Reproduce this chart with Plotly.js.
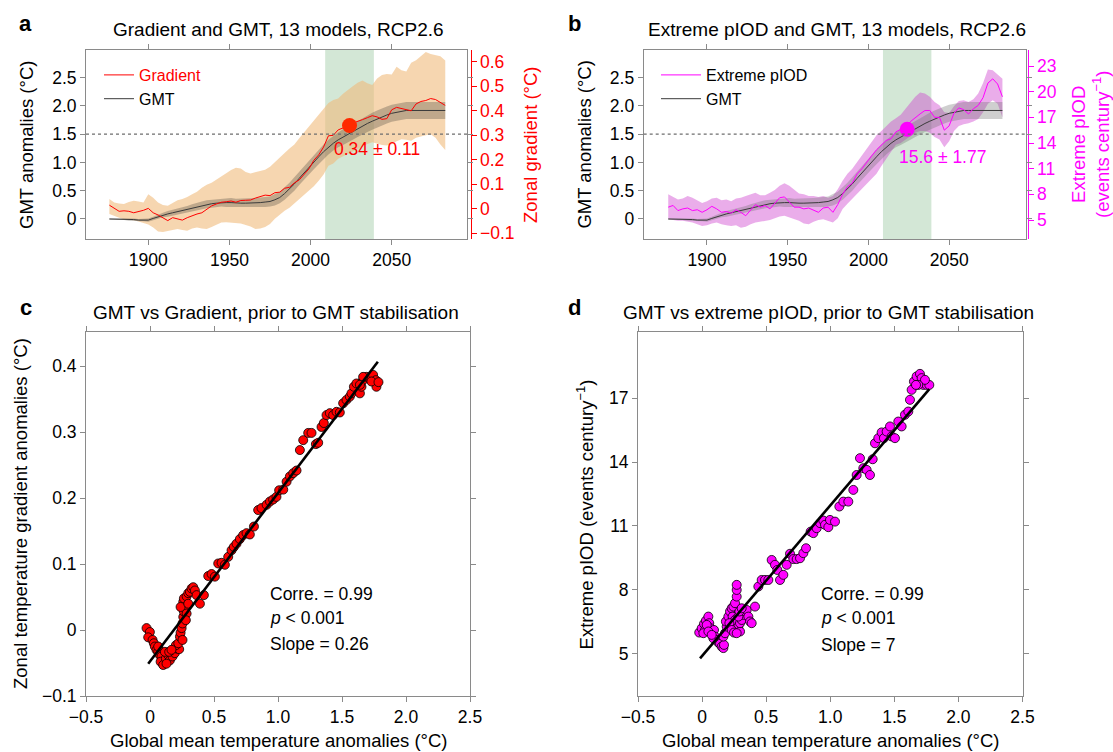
<!DOCTYPE html>
<html><head><meta charset="utf-8">
<script src="https://cdn.plot.ly/plotly-3.0.1.min.js"></script>
<style>html,body{margin:0;padding:0;background:#fff}#chart{width:1113px;height:752px}</style>
</head><body><div id="chart"></div>
<script>
// ---------------- data ----------------
const years = [1876,1879,1882,1885,1888,1891,1894,1897,1900,
  1903,1906,1909,1912,1915,1918,1921,1924,1927,1930,
  1933,1936,1939,1942,1945,1948,1951,1954,1957,1960,
  1963,1966,1969,1972,1975,1978,1981,1984,1987,1990,
  1993,1996,1999,2002,2005,2008,2011,2014,2017,2020,
  2023,2026,2029,2032,2035,2038,2041,2044,2047,2050,
  2053,2056,2059,2062,2065,2068,2071,2074,2077,2080,
  2083];

const gmt = [0.00,0.00,0.00,0.00,-0.01,-0.01,-0.02,-0.02,-0.02,
  0.01,0.04,0.07,0.09,0.11,0.13,0.15,0.17,0.20,0.22,
  0.24,0.26,0.27,0.28,0.29,0.29,0.29,0.28,0.28,0.28,
  0.28,0.29,0.29,0.30,0.31,0.34,0.38,0.45,0.53,0.62,
  0.72,0.82,0.92,1.01,1.10,1.19,1.27,1.34,1.40,1.45,
  1.49,1.54,1.59,1.64,1.69,1.73,1.77,1.81,1.84,1.87,
  1.89,1.91,1.92,1.92,1.92,1.92,1.92,1.92,1.92,1.92,
  1.92];
const gmtLo = [-0.01,-0.01,-0.01,-0.02,-0.03,-0.03,-0.04,-0.04,-0.05,
  -0.02,0.00,0.03,0.04,0.06,0.08,0.09,0.11,0.14,0.15,
  0.17,0.19,0.20,0.21,0.22,0.21,0.21,0.20,0.20,0.20,
  0.20,0.21,0.20,0.21,0.22,0.24,0.28,0.34,0.42,0.50,
  0.60,0.70,0.80,0.88,0.97,1.06,1.14,1.21,1.27,1.31,
  1.35,1.40,1.45,1.50,1.54,1.58,1.62,1.66,1.69,1.72,
  1.74,1.76,1.77,1.77,1.77,1.77,1.77,1.77,1.77,1.77,
  1.77];
const gmtHi = [0.01,0.01,0.01,0.02,0.01,0.01,0.00,0.00,0.01,
  0.04,0.08,0.11,0.14,0.16,0.18,0.21,0.23,0.26,0.29,
  0.31,0.33,0.34,0.35,0.36,0.37,0.37,0.36,0.36,0.36,
  0.36,0.37,0.38,0.39,0.40,0.44,0.48,0.56,0.64,0.74,
  0.84,0.94,1.04,1.14,1.23,1.32,1.40,1.47,1.53,1.59,
  1.63,1.68,1.73,1.78,1.84,1.88,1.92,1.96,1.99,2.02,
  2.04,2.06,2.07,2.07,2.07,2.07,2.07,2.07,2.07,2.07,
  2.07];

const gradient = [0.015,0.004,-0.010,-0.008,-0.010,-0.016,-0.012,-0.006,0.002,
  -0.016,-0.025,-0.035,-0.048,-0.036,-0.040,-0.046,-0.036,-0.028,-0.021,
  -0.016,-0.002,0.012,0.020,0.027,0.029,0.032,0.027,0.034,0.035,
  0.036,0.044,0.050,0.056,0.054,0.066,0.068,0.084,0.088,0.106,
  0.118,0.142,0.163,0.198,0.220,0.252,0.298,0.300,0.322,0.330,
  0.342,0.350,0.356,0.364,0.372,0.380,0.375,0.365,0.368,0.404,
  0.414,0.410,0.404,0.400,0.428,0.438,0.442,0.450,0.446,0.434,
  0.422];
const gradientHi = [0.040,0.026,0.022,0.020,0.028,0.033,0.030,0.026,0.060,
  0.045,0.026,0.016,0.013,0.025,0.035,0.040,0.048,0.060,0.070,
  0.086,0.098,0.106,0.118,0.132,0.145,0.158,0.168,0.165,0.150,
  0.144,0.150,0.156,0.160,0.172,0.192,0.208,0.228,0.246,0.262,
  0.288,0.312,0.338,0.362,0.388,0.410,0.432,0.444,0.450,0.470,
  0.486,0.500,0.514,0.524,0.512,0.505,0.532,0.546,0.550,0.548,
  0.580,0.565,0.560,0.596,0.606,0.622,0.640,0.632,0.628,0.622,
  0.605];
const gradientLo = [-0.021,-0.030,-0.036,-0.042,-0.044,-0.047,-0.052,-0.058,-0.064,
  -0.076,-0.092,-0.094,-0.090,-0.086,-0.082,-0.086,-0.089,-0.080,-0.076,
  -0.080,-0.082,-0.074,-0.064,-0.056,-0.055,-0.056,-0.056,-0.060,-0.066,
  -0.072,-0.082,-0.080,-0.074,-0.062,-0.040,-0.022,-0.008,0.004,0.022,
  0.040,0.055,0.072,0.092,0.115,0.140,0.176,0.185,0.204,0.215,
  0.225,0.234,0.244,0.255,0.265,0.272,0.265,0.260,0.258,0.264,
  0.276,0.284,0.282,0.278,0.290,0.296,0.300,0.304,0.290,0.262,
  0.240];

const piod = [6.5,6.7,6.1,6.3,6.4,6.1,6.2,5.9,6.2,
  6.6,6.3,5.9,6.0,5.8,6.2,5.9,5.5,6.2,6.8,
  6.5,6.7,6.3,6.9,7.6,7.7,7.1,6.5,6.5,6.3,
  6.4,6.1,5.9,6.4,6.5,5.9,6.8,8.0,8.9,9.3,
  10.4,11.0,11.8,12.5,13.2,13.8,14.3,14.5,15.3,15.6,
  15.8,16.5,17.0,17.4,17.8,17.8,17.0,17.0,15.5,16.0,
  17.5,18.1,17.9,17.4,18.0,18.4,19.3,21.0,21.5,20.9,
  19.4];
const piodHi = [8.0,7.7,7.4,7.5,7.8,7.6,7.3,7.0,7.2,
  7.5,7.6,7.3,7.4,7.2,7.5,7.6,7.8,8.0,8.2,
  7.9,7.9,8.2,8.5,9.0,9.3,9.0,8.5,8.1,8.0,
  7.8,7.8,7.7,7.8,7.6,7.8,8.6,9.6,10.4,11.0,
  11.8,12.6,13.4,14.2,14.9,15.4,16.0,16.5,16.9,17.3,
  18.0,18.7,19.4,19.9,19.8,19.4,18.8,18.4,17.6,17.5,
  18.3,18.9,19.0,18.8,19.1,19.8,21.0,22.6,22.5,22.0,
  21.5];
const piodLo = [5.1,5.0,4.9,4.9,4.8,4.7,4.5,4.3,4.4,
  4.6,4.7,4.5,4.4,4.3,4.4,4.1,4.2,4.5,4.7,
  4.8,4.9,5.0,5.2,5.4,5.5,5.3,5.1,4.9,4.6,
  4.5,4.8,5.0,5.1,4.9,4.7,5.2,6.3,6.9,7.5,
  8.1,8.6,9.2,9.8,10.4,11.3,12.1,13.0,13.8,14.0,
  14.4,14.9,15.2,15.4,15.4,15.2,14.7,14.4,13.5,14.2,
  15.4,16.0,16.2,16.3,16.5,16.8,17.6,18.6,19.0,18.6,
  17.0];

const stabWindow = [2009, 2039];      // shaded years
const gmtThreshold = 1.5;             // dotted line
const crossYear = 2024;               // year GMT reaches 1.5
const gradAtThreshold = 0.34, gradSpread = 0.11;
const piodAtThreshold = 15.6, piodSpread = 1.77;

// panel c: GMT vs gradient
const cGMT = [-0.027,-0.001,-0.014,0.020,0.030,0.038,0.051,0.064,0.077,0.090,0.083,0.103,0.124,0.142,0.155,0.176,0.194,0.208,0.228,0.202,0.221,0.234,0.239,0.247,0.254,0.260,0.265,0.273,0.260,0.265,0.286,0.299,0.312,0.325,0.338,0.351,0.364,0.390,0.421,0.116,0.064,0.129,0.150,0.168,0.286,0.280,0.254,0.239,0.299,
  0.455,0.481,0.507,0.533,0.559,0.585,0.611,0.637,0.655,0.676,0.702,0.728,0.754,0.780,0.812,0.845,0.871,0.911,0.937,0.962,0.988,1.009,1.041,1.067,1.093,1.119,1.145,1.171,1.197,1.236,1.262,1.296,1.314,1.340,1.358,1.379,1.405,1.431,1.457,1.483,1.509,1.535,1.561,1.574,1.593,1.613,1.640,1.652,1.665,1.692,1.717,1.743,1.764,1.769,1.730,1.665,1.640,1.785];
const cGrad = [0.003,-0.003,-0.011,-0.015,-0.020,-0.025,-0.030,-0.033,-0.038,-0.040,-0.048,-0.053,-0.043,-0.038,-0.046,-0.040,-0.035,-0.028,-0.029,-0.023,-0.020,-0.010,-0.004,0.003,0.010,0.020,0.028,0.035,0.043,0.048,0.051,0.056,0.058,0.063,0.065,0.060,0.053,0.040,0.053,-0.033,-0.025,-0.051,-0.033,-0.030,0.025,0.015,-0.015,0.035,0.040,
  0.082,0.085,0.081,0.101,0.102,0.099,0.111,0.121,0.126,0.131,0.138,0.144,0.147,0.145,0.157,0.182,0.185,0.190,0.195,0.198,0.202,0.212,0.213,0.225,0.233,0.238,0.242,0.273,0.288,0.299,0.299,0.282,0.284,0.308,0.314,0.326,0.329,0.326,0.331,0.330,0.344,0.349,0.354,0.359,0.369,0.374,0.359,0.369,0.379,0.384,0.382,0.387,0.379,0.369,0.377,0.384,0.372,0.376];
const cFitX = [-0.014, 1.78], cFitY = [-0.051, 0.407];

// panel d: GMT vs extreme pIOD
const dGMT = [-0.022,-0.003,0.015,0.030,0.049,0.056,0.067,0.082,0.093,0.023,0.010,0.036,0.049,0.101,0.114,0.127,0.140,0.153,0.166,0.171,0.088,0.075,0.166,0.179,0.192,0.186,0.205,0.218,0.231,0.244,0.257,0.270,0.270,0.270,0.238,0.257,0.270,0.283,0.296,0.296,0.309,0.322,0.335,0.348,0.361,0.374,0.387,0.413,0.213,0.231,0.249,0.270,0.283,0.291,0.309,
  0.439,0.465,0.491,0.517,0.543,0.569,0.587,0.608,0.634,0.660,0.686,0.712,0.738,0.764,0.790,0.811,0.847,0.868,0.894,0.920,0.946,0.959,0.985,0.998,1.037,1.071,1.102,1.141,1.180,1.206,1.232,1.258,1.284,1.310,1.331,1.349,1.375,1.401,1.419,1.440,1.466,1.479,1.505,1.531,1.557,1.583,1.609,1.622,1.635,1.653,1.674,1.700,1.713,1.726,1.752,1.773,1.739,1.687,1.669];
const dPiod = [5.99,6.19,6.40,6.55,6.74,6.43,6.19,5.96,6.11,6.11,5.96,6.35,6.04,5.80,5.64,5.52,5.46,5.33,5.26,5.41,5.72,5.88,5.80,5.96,6.27,6.51,6.74,6.98,7.13,7.21,7.37,7.68,7.99,8.23,6.74,6.58,6.43,6.27,6.04,6.43,6.58,6.82,6.98,7.05,6.74,6.51,6.43,7.21,6.43,6.11,5.99,5.96,6.74,6.98,7.13,
  8.15,8.46,8.46,8.46,9.40,9.17,8.93,8.46,8.70,9.17,9.69,9.44,9.44,9.48,9.72,9.95,10.73,10.66,10.89,11.13,11.25,11.05,10.94,11.28,11.20,11.91,12.14,12.14,12.69,13.39,14.18,13.71,13.63,13.39,14.13,14.88,15.12,15.39,15.12,15.43,15.67,15.20,15.12,15.90,15.67,16.22,16.37,16.92,17.39,17.78,18.02,18.14,17.94,17.62,17.62,17.62,17.86,17.62,17.62];
const dFitX = [-0.016, 1.773], dFitY = [4.78, 17.42];

const gmtTickVals = [0,0.5,1,1.5,2,2.5], gmtTickText = ['0','0.5','1.0','1.5','2.0','2.5'];
const gradTickVals = [-0.1,0,0.1,0.2,0.3,0.4,0.5,0.6], gradTickText = ['\u22120.1','0','0.1','0.2','0.3','0.4','0.5','0.6'];
const piodTickVals = [5,8,11,14,17,20,23];
const yearTicks = [1900,1950,2000,2050];
const scatX = [-0.5,0,0.5,1,1.5,2,2.5], scatXText = ['\u22120.5','0','0.5','1.0','1.5','2.0','2.5'];
const cYVals = [-0.1,0,0.1,0.2,0.3,0.4], cYText = ['\u22120.1','0','0.1','0.2','0.3','0.4'];
const dYVals = [5,8,11,14,17];

// ---------------- layout helpers ----------------
const W = 1113, H = 752;
const FONT = '"Liberation Sans", Arial, Helvetica, sans-serif';
const FRAME = '#8a8a8a';
const RED = '#ff0000', MAG = '#ff00ff';
const PX = x => x / W, PY = y => 1 - y / H;
const topDom = [PY(239), PY(50)], botDom = [PY(696), PY(331.7)];

function ax(o) {
  return Object.assign({showline:true, linecolor:FRAME, linewidth:1, mirror:'allticks',
    ticks:'outside', ticklen:5, tickwidth:1, tickcolor:FRAME, showgrid:false, zeroline:false,
    tickfont:{size:17.5, color:'#000'}, fixedrange:true, tickmode:'array'}, o);
}
function colAx(color, o) {
  return Object.assign({showline:true, linecolor:color, linewidth:1, mirror:false, ticks:'outside',
    ticklen:5, tickwidth:1, tickcolor:color, showgrid:false, zeroline:false,
    tickfont:{size:17.5, color:color}, fixedrange:true, tickmode:'array'}, o);
}

const bandLine = {width:0};
const traces = [
  // panel a
  {x:years, y:gradientLo, xaxis:'x', yaxis:'y', mode:'lines', line:bandLine, showlegend:false, hoverinfo:'skip'},
  {x:years, y:gradientHi, xaxis:'x', yaxis:'y', mode:'lines', line:bandLine, fill:'tonexty', fillcolor:'rgba(240,186,124,0.6)', showlegend:false, hoverinfo:'skip'},
  {x:years, y:gmtLo, xaxis:'x', yaxis:'y2', mode:'lines', line:bandLine, showlegend:false, hoverinfo:'skip'},
  {x:years, y:gmtHi, xaxis:'x', yaxis:'y2', mode:'lines', line:bandLine, fill:'tonexty', fillcolor:'rgba(95,85,75,0.36)', showlegend:false, hoverinfo:'skip'},
  {x:years, y:gradient, xaxis:'x', yaxis:'y3', mode:'lines', line:{color:RED, width:1}, name:'<span style="color:#ff0000">Gradient</span>', legend:'legend', legendrank:1},
  {x:years, y:gmt, xaxis:'x', yaxis:'y2', mode:'lines', line:{color:'#3a3a3a', width:1}, name:'GMT', legend:'legend', legendrank:2},
  {x:[crossYear], y:[gradAtThreshold], xaxis:'x', yaxis:'y3', mode:'markers', marker:{size:15, color:'#ff2a00'}, showlegend:false},
  // panel b
  {x:years, y:piodLo, xaxis:'x2', yaxis:'y4', mode:'lines', line:bandLine, showlegend:false, hoverinfo:'skip'},
  {x:years, y:piodHi, xaxis:'x2', yaxis:'y4', mode:'lines', line:bandLine, fill:'tonexty', fillcolor:'rgba(205,60,205,0.42)', showlegend:false, hoverinfo:'skip'},
  {x:years, y:gmtLo, xaxis:'x2', yaxis:'y5', mode:'lines', line:bandLine, showlegend:false, hoverinfo:'skip'},
  {x:years, y:gmtHi, xaxis:'x2', yaxis:'y5', mode:'lines', line:bandLine, fill:'tonexty', fillcolor:'rgba(110,110,110,0.33)', showlegend:false, hoverinfo:'skip'},
  {x:years, y:gmt, xaxis:'x2', yaxis:'y5', mode:'lines', line:{color:'#3a3a3a', width:1}, name:'GMT', legend:'legend2', legendrank:2},
  {x:years, y:piod, xaxis:'x2', yaxis:'y6', mode:'lines', line:{color:MAG, width:1}, name:'Extreme pIOD', legend:'legend2', legendrank:1},
  {x:[crossYear], y:[piodAtThreshold], xaxis:'x2', yaxis:'y6', mode:'markers', marker:{size:15, color:MAG}, showlegend:false},
  // panel c
  {x:cGMT, y:cGrad, xaxis:'x3', yaxis:'y7', mode:'markers', marker:{size:9, color:RED, line:{color:'#000', width:0.8}}, showlegend:false},
  {x:cFitX, y:cFitY, xaxis:'x3', yaxis:'y7', mode:'lines', line:{color:'#000', width:2.6}, showlegend:false},
  // panel d
  {x:dGMT, y:dPiod, xaxis:'x4', yaxis:'y8', mode:'markers', marker:{size:9, color:MAG, line:{color:'#000', width:0.8}}, showlegend:false},
  {x:dFitX, y:dFitY, xaxis:'x4', yaxis:'y8', mode:'lines', line:{color:'#000', width:2.6}, showlegend:false}
];

const gradRange = [-0.123, 0.648], gmtRange = [-0.354, 2.99], piodRange = [2.78, 24.87];

function ann(text, x, y, o) {
  return Object.assign({text:text, x:PX(x), y:PY(y), xref:'paper', yref:'paper', showarrow:false,
    xanchor:'center', yanchor:'middle', font:{size:19, color:'#000'}}, o);
}

const layout = {
  width:W, height:H, margin:{l:0, r:0, t:0, b:0},
  paper_bgcolor:'#fff', plot_bgcolor:'rgba(0,0,0,0)',
  font:{family:FONT, color:'#000'},
  showlegend:true,
  xaxis: ax({domain:[PX(86), PX(467)], range:[1861.6, 2096.4], anchor:'y', tickvals:yearTicks}),
  yaxis: colAx(RED, {domain:topDom, range:gradRange, side:'right', anchor:'free', position:PX(470.5), tickvals:gradTickVals, ticktext:gradTickText}),
  yaxis2: ax({overlaying:'y', side:'left', anchor:'x', range:gmtRange, tickvals:gmtTickVals, ticktext:gmtTickText}),
  yaxis3: {overlaying:'y', range:gradRange, visible:false, fixedrange:true},
  xaxis2: ax({domain:[PX(643.7), PX(1026)], range:[1860.8, 2097.6], anchor:'y4', tickvals:yearTicks}),
  yaxis4: colAx(MAG, {domain:topDom, range:piodRange, side:'right', anchor:'free', position:PX(1027.5), tickvals:piodTickVals}),
  yaxis5: ax({overlaying:'y4', side:'left', anchor:'x2', range:gmtRange, tickvals:gmtTickVals, ticktext:gmtTickText}),
  yaxis6: {overlaying:'y4', range:piodRange, visible:false, fixedrange:true},
  xaxis3: ax({domain:[PX(86), PX(470)], range:[-0.5, 2.5], anchor:'y7', tickvals:scatX, ticktext:scatXText}),
  yaxis7: ax({domain:botDom, range:[-0.1, 0.4525], anchor:'x3', tickvals:cYVals, ticktext:cYText}),
  xaxis4: ax({domain:[PX(638), PX(1022.5)], range:[-0.5, 2.5], anchor:'y8', tickvals:scatX, ticktext:scatXText}),
  yaxis8: ax({domain:botDom, range:[3.01, 20.12], anchor:'x4', tickvals:dYVals}),
  legend: {x:PX(99), y:PY(58), xanchor:'left', yanchor:'top', bgcolor:'rgba(0,0,0,0)', font:{size:16, color:'#000'}, itemwidth:30, tracegroupgap:0, traceorder:'normal'},
  legend2: {x:PX(656), y:PY(58), xanchor:'left', yanchor:'top', bgcolor:'rgba(0,0,0,0)', font:{size:16, color:'#000'}, itemwidth:40, tracegroupgap:0, traceorder:'normal'},
  shapes: [
    {type:'rect', xref:'x', yref:'y domain', x0:stabWindow[0], x1:stabWindow[1], y0:0, y1:1, fillcolor:'#d3e7d6', line:{width:0}, layer:'below'},
    {type:'rect', xref:'x2', yref:'y4 domain', x0:stabWindow[0], x1:stabWindow[1], y0:0, y1:1, fillcolor:'#d3e7d6', line:{width:0}, layer:'below'},
    {type:'line', xref:'x domain', yref:'y2', x0:0, x1:1, y0:gmtThreshold, y1:gmtThreshold, line:{color:'#6e6e6e', width:1.3, dash:'3px,3px'}, layer:'above'},
    {type:'line', xref:'x2 domain', yref:'y5', x0:0, x1:1, y0:gmtThreshold, y1:gmtThreshold, line:{color:'#6e6e6e', width:1.3, dash:'3px,3px'}, layer:'above'}
  ],
  annotations: [
    ann('<b>a</b>', 25.5, 23, {font:{size:22}}),
    ann('<b>b</b>', 574.7, 23, {font:{size:22}}),
    ann('<b>c</b>', 26, 307.5, {font:{size:22}}),
    ann('<b>d</b>', 574.7, 307.5, {font:{size:22}}),
    ann('Gradient and GMT, 13 models, RCP2.6', 278, 30),
    ann('Extreme pIOD and GMT, 13 models, RCP2.6', 836.6, 30),
    ann('GMT vs Gradient, prior to GMT stabilisation', 276, 312.5),
    ann('GMT vs extreme pIOD, prior to GMT stabilisation', 828.5, 312.5),
    ann('GMT anomalies (\u00b0C)', 26, 145, {textangle:-90, font:{size:18.5}}),
    ann('GMT anomalies (\u00b0C)', 583.6, 145, {textangle:-90, font:{size:18.5}}),
    ann('Zonal gradient (\u00b0C)', 530, 145, {textangle:-90, font:{size:18.5, color:RED}}),
    ann('Extreme pIOD<br>(events century<sup>\u22121</sup>)', 1090, 145, {textangle:-90, font:{size:18.5, color:MAG}}),
    ann('Zonal temperature gradient anomalies (\u00b0C)', 20, 514, {textangle:-90, font:{size:18.5}}),
    ann('Extreme pIOD (events century<sup>\u22121</sup>)', 585.4, 514, {textangle:-90, font:{size:18.5}}),
    ann('Global mean temperature anomalies (\u00b0C)', 278, 740.5, {font:{size:18.5}}),
    ann('Global mean temperature anomalies (\u00b0C)', 830, 740.5, {font:{size:18.5}}),
    ann(gradAtThreshold.toFixed(2) + ' \u00b1 ' + gradSpread.toFixed(2), 377, 149, {font:{size:17.5, color:RED}}),
    ann(piodAtThreshold.toFixed(1) + ' \u00b1 ' + piodSpread.toFixed(2), 942.5, 157, {font:{size:17.5, color:MAG}}),
    ann('Corre. = 0.99', 268, 594, {xanchor:'left', font:{size:17.5}}),
    ann('<i>p</i> &lt; 0.001', 268, 618, {xanchor:'left', font:{size:17.5}}),
    ann('Slope = 0.26', 268, 644, {xanchor:'left', font:{size:17.5}}),
    ann('Corre. = 0.99', 819, 594, {xanchor:'left', font:{size:17.5}}),
    ann('<i>p</i> &lt; 0.001', 819, 618, {xanchor:'left', font:{size:17.5}}),
    ann('Slope = 7', 819, 645, {xanchor:'left', font:{size:17.5}})
  ]
};

Plotly.newPlot('chart', traces, layout, {displayModeBar:false, staticPlot:true});
</script>
</body></html>
